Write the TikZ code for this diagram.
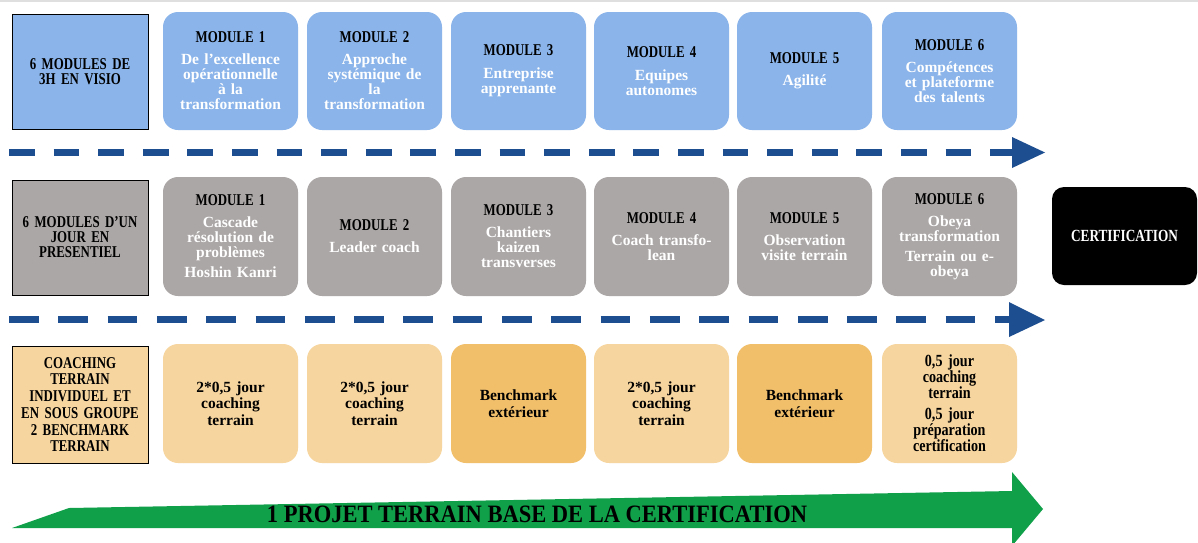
\documentclass[tikz,border=0pt]{standalone}
\usepackage{fontspec}
\setmainfont{Liberation Serif}
\newfontfamily\capsf[FakeStretch=0.78]{Liberation Serif}
\newfontfamily\narrowf[FakeStretch=0.83]{Liberation Serif}
\newfontfamily\bigf[FakeStretch=0.9]{Liberation Serif}
\definecolor{modblue}{HTML}{8AB4EA}
\definecolor{modgray}{HTML}{ABA7A6}
\definecolor{modlight}{HTML}{F7D59E}
\definecolor{moddark}{HTML}{F1BE6A}
\definecolor{arrowblue}{HTML}{1D4E8F}
\definecolor{arrowgreen}{HTML}{10A04A}
\newcommand\modtitle[1]{\textcolor{black}{\capsf\fontsize{16.5}{15}\selectfont #1}}
\begin{document}
\begin{tikzpicture}[x=1pt,y=-1pt,
  modbox/.style={rounded corners=15pt, minimum width=135pt, minimum height=119pt,
    align=center, inner sep=0pt, text width=133pt,
    font=\bfseries\fontsize{15.5}{15}\selectfont, text=white},
  bluebox/.style={modbox, fill=modblue, minimum height=118pt},
  graybox/.style={modbox, fill=modgray},
  lightbox/.style={modbox, fill=modlight, text=black, font=\bfseries\fontsize{15.5}{16.7}\selectfont},
  darkbox/.style={modbox, fill=moddark, text=black, font=\bfseries\fontsize{15.5}{16.7}\selectfont},
  labelbox/.style={draw=black, line width=1pt, minimum width=136pt, align=center,
    inner sep=0pt, text width=134pt, font=\capsf\bfseries\fontsize{16.5}{15}\selectfont, text=black},
  certbox/.style={fill=black, rounded corners=12pt, minimum width=145pt, minimum height=98pt,
    inner sep=0pt, text=white, font=\capsf\bfseries\fontsize{17}{15}\selectfont},
  dashline/.style={arrowblue},
]
\useasboundingbox (0,0) rectangle (1198,542);
\fill[white] (0,0) rectangle (1198,542);
\draw[gray!25, line width=1.5pt] (0,0.75) -- (1198,0.75);

% Row 1
\node[labelbox, fill=modblue, minimum height=115pt] (l1) at (80,71.5) {6 MODULES DE\\3H EN VISIO};
\node[bluebox] (m11) at (230.5,71) {\modtitle{MODULE 1}\\[7pt]De l’excellence\\opérationnelle\\à la\\transformation};
\node[bluebox] (m12) at (374.5,71) {\modtitle{MODULE 2}\\[7pt]Approche\\systémique de\\la\\transformation};
\node[bluebox] (m13) at (518.5,71) {\modtitle{MODULE 3}\\[8pt]Entreprise\\apprenante};
\node[bluebox] (m14) at (661.5,71) {\modtitle{MODULE 4}\\[8pt]Equipes\\autonomes};
\node[bluebox] (m15) at (804.5,71) {\modtitle{MODULE 5}\\[7pt]Agilité};
\node[bluebox] (m16) at (949.5,71) {\modtitle{MODULE 6}\\[7pt]Compétences\\et plateforme\\des talents};

% Arrow 1
\coordinate (d1s) at (9,152);
\coordinate (d1e) at (1012,152);
\draw[dashline, line width=7pt, dash pattern=on 25.7pt off 18.9pt] (d1s) -- (d1e);
\fill[arrowblue] (1012,137) -- (1045,152.5) -- (1012,168) -- cycle;

% Row 2
\node[labelbox, fill=modgray, minimum height=115pt] (l2) at (80,237.5) {6 MODULES D’UN\\JOUR EN\\PRESENTIEL};
\node[graybox] (m21) at (230.5,236.5) {\modtitle{MODULE 1}\\[7pt]Cascade\\résolution de\\problèmes\\[5pt]Hoshin Kanri};
\node[graybox] (m22) at (374.5,236.5) {\modtitle{MODULE 2}\\[7pt]Leader coach};
\node[graybox] (m23) at (518.5,236.5) {\modtitle{MODULE 3}\\[7pt]Chantiers\\kaizen\\transverses};
\node[graybox] (m24) at (661.5,236.5) {\modtitle{MODULE 4}\\[7pt]Coach transfo-\\lean};
\node[graybox] (m25) at (804.5,236.5) {\modtitle{MODULE 5}\\[7pt]Observation\\visite terrain};
\node[graybox] (m26) at (949.5,236.5) {\modtitle{MODULE 6}\\[7pt]Obeya\\transformation\\[5pt]Terrain ou e-\\obeya};
\node[certbox] (cert) at (1124.5,236) {CERTIFICATION};

% Arrow 2
\coordinate (d2s) at (9,319.5);
\coordinate (d2e) at (1009,319.5);
\draw[dashline, line width=7.5pt, dash pattern=on 29.7pt off 19.6pt] (d2s) -- (d2e);
\fill[arrowblue] (1009,302) -- (1045,320) -- (1009,337) -- cycle;

% Row 3
\node[labelbox, fill=modlight, minimum height=117pt, font=\capsf\bfseries\fontsize{16.5}{16.7}\selectfont] (l3) at (80,404.5) {COACHING\\TERRAIN\\INDIVIDUEL ET\\EN SOUS GROUPE\\2 BENCHMARK\\TERRAIN};
\node[lightbox] (m31) at (230.5,403.5) {2*0,5 jour\\coaching\\terrain};
\node[lightbox] (m32) at (374.5,403.5) {2*0,5 jour\\coaching\\terrain};
\node[darkbox] (m33) at (518.5,403.5) {Benchmark\\extérieur};
\node[lightbox] (m34) at (661.5,403.5) {2*0,5 jour\\coaching\\terrain};
\node[darkbox] (m35) at (804.5,403.5) {Benchmark\\extérieur};
\node[lightbox, font=\narrowf\bfseries\fontsize{17}{15.5}\selectfont] (m36) at (949.5,403.5) {0,5 jour\\coaching\\terrain\\[5.5pt]0,5 jour\\préparation\\certification};

% Green arrow
\fill[arrowgreen] (12,528) -- (69,508) -- (1012,491) -- (1012,472) -- (1043,509) -- (1012,546) -- (1012,528) -- cycle;
\node[font=\bigf\bfseries\fontsize{25}{25}\selectfont, text=black, inner sep=0pt] (proj) at (537,514.5) {1 PROJET TERRAIN BASE DE LA CERTIFICATION};
\end{tikzpicture}
\end{document}
